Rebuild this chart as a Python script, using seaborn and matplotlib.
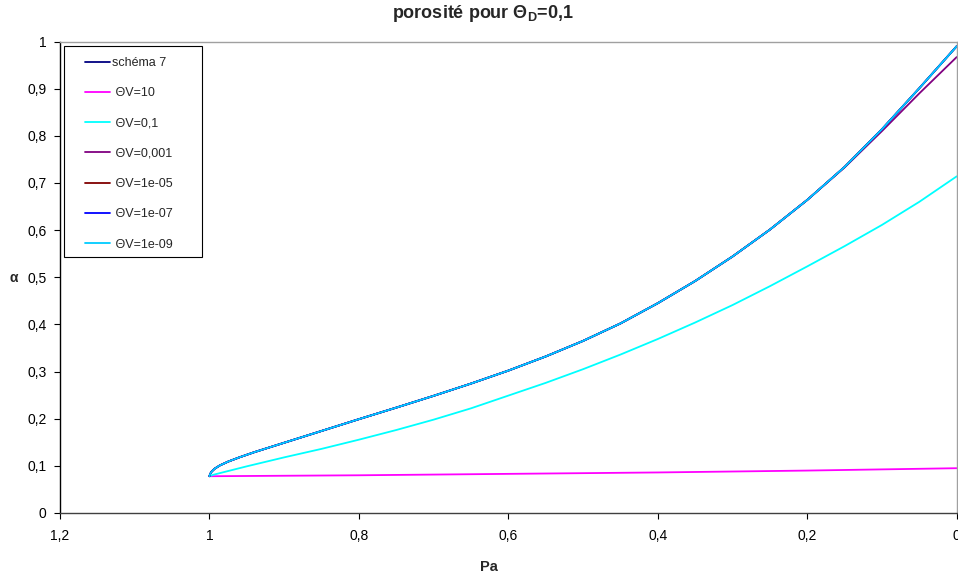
import pandas as pd
import numpy as np
import matplotlib
matplotlib.use('Agg')
import matplotlib.pyplot as plt
from matplotlib.patches import Rectangle
import seaborn as sns

# valeurs
pa_main = [1.000, 0.999, 0.997, 0.993, 0.986, 0.975, 0.960, 0.940, 0.920, 0.900, 0.850,
           0.800, 0.750, 0.700, 0.650, 0.600, 0.550, 0.500, 0.450, 0.400, 0.350,
           0.300, 0.250, 0.200, 0.150, 0.100, 0.050, 0.000]
alpha_main = [0.078, 0.083, 0.088, 0.094, 0.101, 0.109, 0.118, 0.129, 0.139, 0.149, 0.174,
              0.199, 0.2235, 0.2485, 0.2745, 0.302, 0.332, 0.365, 0.402, 0.445, 0.492,
              0.544, 0.601, 0.664, 0.734, 0.814, 0.901, 0.990]
alpha_v001 = [0.078, 0.083, 0.088, 0.094, 0.101, 0.109, 0.118, 0.129, 0.139, 0.149, 0.174,
              0.199, 0.2235, 0.2485, 0.2745, 0.302, 0.332, 0.365, 0.402, 0.445, 0.492,
              0.544, 0.601, 0.664, 0.733, 0.810, 0.890, 0.967]

pa_v01 = [1.000, 0.995, 0.985, 0.970, 0.950, 0.900, 0.850, 0.800, 0.750, 0.700, 0.650,
          0.600, 0.550, 0.500, 0.450, 0.400, 0.350, 0.300, 0.250, 0.200, 0.150,
          0.100, 0.050, 0.000]
alpha_v01 = [0.078, 0.081, 0.085, 0.091, 0.099, 0.118, 0.136, 0.1555, 0.176, 0.198, 0.222,
             0.249, 0.276, 0.305, 0.336, 0.369, 0.404, 0.441, 0.481, 0.523, 0.566,
             0.611, 0.660, 0.714]

pa_v10 = [1.0, 0.8, 0.6, 0.4, 0.2, 0.0]
alpha_v10 = [0.078, 0.080, 0.083, 0.086, 0.090, 0.095]

series_names = ['schéma 7', 'ΘV=10', 'ΘV=0,1', 'ΘV=0,001', 'ΘV=1e-05', 'ΘV=1e-07', 'ΘV=1e-09']
series_colors = ['#000080', '#FF00FF', '#00FFFF', '#800080', '#800000', '#0000FF', '#00CCFF']

x_ticks = [1.2, 1.0, 0.8, 0.6, 0.4, 0.2, 0.0]
x_labels = ['1,2', '1', '0,8', '0,6', '0,4', '0,2', '0']
y_ticks = [0, 0.1, 0.2, 0.3, 0.4, 0.5, 0.6, 0.7, 0.8, 0.9, 1.0]
y_labels = ['0', '0,1', '0,2', '0,3', '0,4', '0,5', '0,6', '0,7', '0,8', '0,9', '1']

series_data = {
    'schéma 7': (pa_main, alpha_main),
    'ΘV=10': (pa_v10, alpha_v10),
    'ΘV=0,1': (pa_v01, alpha_v01),
    'ΘV=0,001': (pa_main, alpha_v001),
    'ΘV=1e-05': (pa_main, alpha_main),
    'ΘV=1e-07': (pa_main, alpha_main),
    'ΘV=1e-09': (pa_main, alpha_main),
}

frames = []
for name in series_names:
    xs, ys = series_data[name]
    frames.append(pd.DataFrame({'Pa': xs, 'alpha': ys, 'serie': name}))
df = pd.concat(frames, ignore_index=True)

sns.set_theme(style='white')
plt.rcParams['font.family'] = ['Liberation Sans', 'DejaVu Sans']
plt.rcParams['mathtext.fontset'] = 'custom'
plt.rcParams['mathtext.rm'] = 'Liberation Sans:bold'
plt.rcParams['mathtext.bf'] = 'Liberation Sans:bold'

W, H = 958, 574
fig = plt.figure(figsize=(W / 100, H / 100), dpi=100)
# zone de tracé en pixels : gauche 60, droite 956.7, haut 41.5, bas 513
ax = fig.add_axes([60 / W, 1 - 513 / H, 896.7 / W, 471.5 / H])

sns.lineplot(data=df, x='Pa', y='alpha', hue='serie', hue_order=series_names,
             palette=dict(zip(series_names, series_colors)), estimator=None,
             sort=False, linewidth=1.3, ax=ax)

ax.set_xlim(1.2, 0)
ax.set_ylim(0, 1)
ax.set_xticks(x_ticks)
ax.set_xticklabels(x_labels, fontsize=10)
ax.set_yticks(y_ticks)
ax.set_yticklabels(y_labels, fontsize=10)
ax.tick_params(axis='both', direction='out', length=4.3, width=0.8, color='black',
               bottom=True, left=True, labelcolor='black')
ax.tick_params(axis='x', pad=7)
ax.tick_params(axis='y', pad=5.5)

ax.spines['left'].set_color('black')
ax.spines['bottom'].set_color('#404040')
ax.spines['top'].set_color('#A0A0A0')
ax.spines['right'].set_color('#A0A0A0')
for s in ax.spines.values():
    s.set_linewidth(1.0)

ax.set_xlabel('Pa', fontsize=10.5, fontweight='bold')
ax.set_ylabel('α', fontsize=10, fontweight='bold', rotation=0, ha='center', va='center')
ax.xaxis.set_label_coords((489 - 60) / 896.7, (513 - 560) / 471.5)
ax.yaxis.set_label_coords((14 - 60) / 896.7, (513 - 278) / 471.5)

fig.text(483 / W, 1 - 13 / H, 'porosité pour Θ$_\\mathrm{D}$=0,1', ha='center', va='center',
         fontsize=13, fontweight='bold')

# cadre de la légende
ax.add_patch(Rectangle(((64 - 60) / 896.7, (513 - 257.3) / 471.5), 138 / 896.7, 211.6 / 471.5,
                       transform=ax.transAxes, fill=True, facecolor='white',
                       edgecolor='black', linewidth=0.8, zorder=4))

handles, labels = ax.get_legend_handles_labels()
labels = [lab if lab == 'schéma 7' else ' ' + lab for lab in labels]
leg = ax.legend(handles, labels, loc='upper left',
                bbox_to_anchor=((85 - 60) / 896.7, (513 - 57) / 471.5),
                fontsize=9, frameon=False, borderpad=0, borderaxespad=0,
                handlelength=2.0, labelspacing=1.46, handletextpad=0.15)
leg.set_zorder(5)

fig.savefig('out.png', dpi=100)
